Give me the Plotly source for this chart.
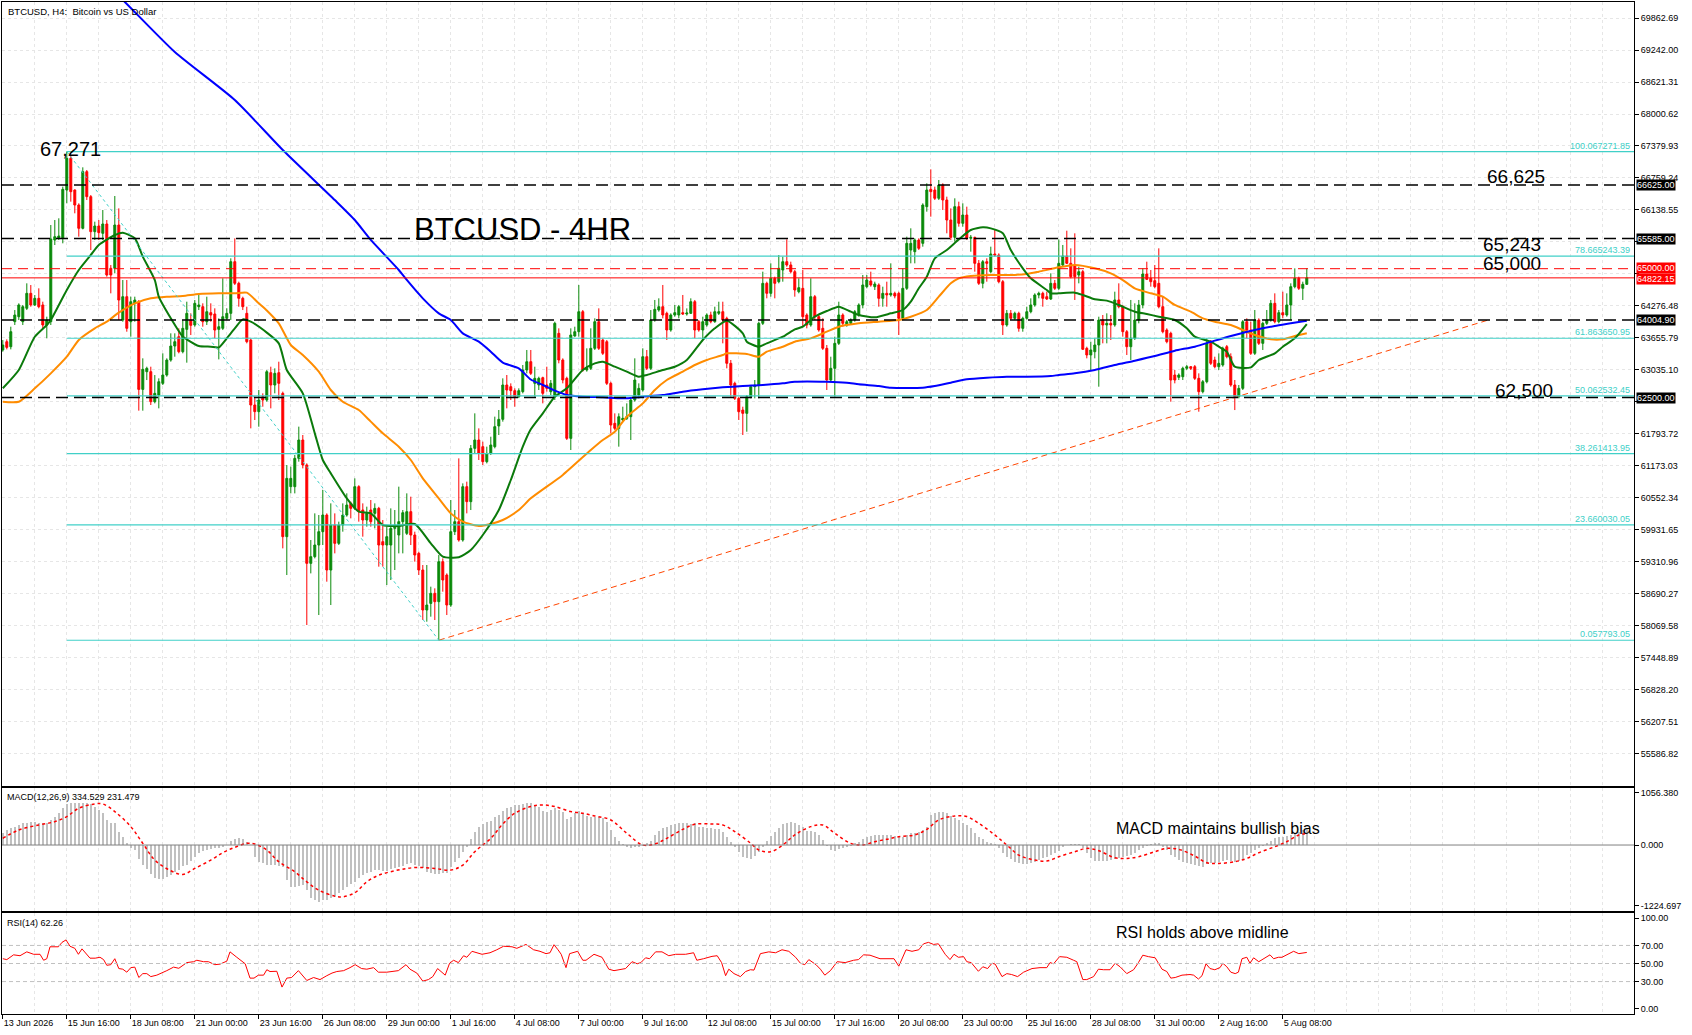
import plotly.graph_objects as go

# BTCUSD H4 candles, bar 0 = 13 Jun 2026 00:00 (one bar = 4 hours)
opens = [
    63423, 63584, 63487, 63972, 64069, 63972, 64231, 64522, 64296, 64425,
    64296, 63908, 63972, 65556, 65589, 65589, 66526, 67141, 66526, 66235,
    65783, 66882, 66397, 65718, 65828, 65686, 65867, 65007, 65007, 65847,
    64004, 64457, 63972, 64328, 64360, 62659, 63002, 63002, 62420, 62550,
    62776, 62937, 63228, 63500, 63681, 63390, 63823, 64004, 63908, 64263,
    64263, 63972, 64147, 64121, 63823, 63843, 64037, 64134, 65136, 64716,
    64425, 64134, 63616, 62356, 62227, 62517, 62453, 62983, 62744, 62983,
    62582, 59802, 60772, 60772, 61321, 61677, 61192, 59284, 59414, 59640,
    59899, 60222, 59155, 60028, 59672, 60028, 60222, 60448, 60351, 60772,
    60319, 60125, 60319, 60254, 60351, 59705, 59640, 59640, 59963, 59834,
    60093, 59866, 60287, 59834, 59478, 59155, 58379, 58508, 58703, 58541,
    59317, 59058, 58476, 59899, 60093, 59737, 60772, 60481, 61515, 61677,
    61548, 61257, 61418, 61548, 61949, 62078, 62744, 62711, 62634, 62517,
    62615, 63035, 63196, 62776, 62744, 62886, 62744, 62614, 62517, 63746,
    63229, 62873, 61709, 63694, 63778, 64166, 63035, 63067, 63455, 63972,
    63617, 63584, 62776, 62000, 61903, 62065, 62097, 62129, 62453, 62550,
    62647, 63293, 63067, 64005, 64199, 64263, 64134, 63811, 64102, 64102,
    64147, 64121, 64134, 64360, 63972, 63811, 63908, 64102, 63972, 64134,
    64166, 64037, 63164, 62776, 62485, 62258, 62194, 62517, 62711, 62744,
    63940, 64716, 64522, 64813, 64748, 64974, 65136, 65072, 64942, 64554,
    64619, 64102, 63908, 64457, 64069, 63843, 63455, 62841, 63067, 63552,
    64102, 63908, 63940, 64005, 64102, 64296, 64651, 64761, 64651, 64684,
    64425, 64522, 64490, 64522, 64522, 64037, 64619, 65362, 65330, 65556,
    65492, 66203, 66539, 66526, 66365, 66623, 66332, 65944, 65608, 66203,
    65880, 66041, 65589, 65608, 65104, 64716, 65136, 64942, 65285, 65265,
    64748, 63908, 64134, 64037, 64134, 63843, 64037, 64166, 64296, 64490,
    64522, 64457, 64412, 64716, 64619, 65072, 65246, 65104, 65072, 64877,
    64942, 63455, 63326, 63390, 63520, 64005, 63908, 63940, 63908, 64393,
    64263, 63778, 63487, 63649, 64005, 64296, 64897, 64813, 64768, 64716,
    64263, 63811, 63746, 62938, 62893, 62905, 63067, 63099, 63099, 62873,
    62614, 62808, 63552, 63229, 63099, 63132, 63487, 63293, 62744, 62517,
    62679, 63972, 63811, 63358, 64005, 63552, 63940, 64005, 64328, 63972,
    64147, 64102, 64296, 64651, 64813, 64619, 64697,
]
highs = [
    63616, 63629, 63875, 64198, 64328, 64296, 64716, 64683, 64489, 64619,
    64360, 64069, 65847, 65944, 65977, 66591, 67272, 67205, 66539, 66268,
    66966, 66914, 66429, 65912, 65944, 66138, 65944, 65071, 66410, 66170,
    64780, 64780, 64457, 64457, 64392, 63261, 63099, 63099, 62937, 62873,
    63358, 63261, 63746, 63746, 63843, 64004, 64360, 64134, 64392, 64489,
    64328, 64457, 64328, 64231, 64037, 64813, 64231, 65201, 65589, 64748,
    64457, 64263, 63649, 62517, 62647, 62582, 63034, 63099, 63067, 63196,
    62615, 61192, 61160, 61386, 61936, 61774, 61224, 59737, 60254, 60222,
    60707, 60254, 60448, 60254, 60093, 60448, 60642, 60481, 60933, 60800,
    60448, 60384, 60513, 60448, 60380, 60125, 59996, 60351, 60319, 60772,
    60319, 60642, 60578, 59899, 59511, 59252, 59252, 58832, 58800, 59446,
    59381, 59090, 60513, 60319, 61321, 60836, 60869, 61580, 62194, 61903,
    61645, 61548, 61741, 62130, 62259, 62873, 62938, 62776, 62679, 62679,
    63132, 63423, 63423, 63099, 62905, 62905, 63099, 62841, 63972, 63843,
    63261, 62905, 63843, 63875, 64684, 64199, 63455, 63843, 64037, 64231,
    63649, 63617, 62808, 62194, 62194, 62323, 62388, 62485, 63261, 62776,
    63455, 63423, 64199, 64393, 64425, 64684, 64166, 64134, 64296, 64296,
    64490, 64230, 64425, 64393, 64005, 64069, 64134, 64166, 64263, 64360,
    64360, 64069, 63229, 62808, 62517, 62323, 62550, 62744, 62841, 63972,
    64942, 64748, 65104, 64845, 65265, 65233, 65569, 65136, 64974, 64813,
    64974, 64134, 64813, 64490, 64100, 64037, 63520, 63293, 63681, 64360,
    64134, 64005, 64037, 64199, 64328, 64878, 64878, 64942, 64748, 64716,
    64651, 64748, 65104, 64554, 64554, 65007, 65621, 65783, 65589, 65589,
    66268, 66656, 66927, 66591, 66720, 66656, 66397, 66170, 66365, 66300,
    66268, 66203, 65653, 65621, 65168, 65168, 65201, 65427, 65750, 65298,
    64780, 64199, 64199, 64166, 64166, 64069, 64263, 64425, 64522, 64554,
    64554, 64554, 64910, 64781, 65569, 65460, 65737, 65395, 65686, 65039,
    64974, 63487, 63584, 63649, 64069, 64102, 64134, 64102, 64554, 64716,
    64296, 63811, 64393, 64328, 64393, 65007, 65136, 64974, 65072, 65395,
    64457, 63843, 63778, 63035, 62970, 63099, 63132, 63112, 63132, 62970,
    62841, 63649, 63617, 63293, 63358, 63487, 63520, 63358, 62841, 62744,
    64005, 64037, 63972, 64199, 64037, 63972, 64199, 64393, 64522, 64199,
    64554, 64522, 64716, 65007, 64845, 64748, 65007,
]
lows = [
    63390, 63435, 63435, 63908, 64004, 63908, 64198, 64263, 64276, 64231,
    63843, 63649, 63908, 65459, 65556, 65492, 66268, 66300, 66074, 65621,
    65763, 66332, 65362, 65556, 65556, 65556, 64845, 64522, 64910, 64004,
    63972, 63778, 63681, 63972, 62246, 62246, 62840, 62356, 62388, 62291,
    62744, 62905, 63196, 63293, 63358, 63358, 63177, 63713, 63875, 64198,
    63875, 63908, 63972, 63649, 63241, 63810, 64004, 64004, 64683, 64263,
    64198, 63552, 61903, 62065, 61935, 62323, 62420, 62291, 62582, 62453,
    59575, 59058, 60642, 60642, 61257, 61127, 58088, 59090, 59381, 58282,
    59640, 58929, 58476, 59478, 59640, 59899, 60190, 60157, 60319, 60093,
    59802, 59996, 59996, 59963, 59220, 59220, 58864, 58961, 59155, 59478,
    59478, 59834, 59640, 59317, 59058, 58185, 58153, 58250, 58185, 57793,
    58735, 58282, 58440, 59834, 59705, 59705, 60254, 60319, 61418, 61289,
    61192, 61224, 61386, 61515, 61774, 62033, 62291, 62453, 62323, 62490,
    62582, 62970, 62938, 62517, 62647, 62388, 62614, 62550, 62453, 63164,
    62776, 61677, 61483, 63681, 63681, 63003, 63003, 63035, 63423, 63423,
    63326, 62744, 61806, 61871, 61548, 62032, 62065, 61677, 62420, 62485,
    62614, 63035, 63035, 63972, 64166, 64037, 63617, 63778, 64069, 64037,
    64102, 64090, 64121, 63649, 63778, 63617, 63875, 63940, 63950, 64102,
    63552, 63067, 62517, 62453, 62065, 61774, 61838, 62485, 62485, 62485,
    63908, 64425, 64457, 64425, 64716, 64748, 65039, 64910, 64457, 64522,
    63875, 63843, 63875, 64005, 63778, 63423, 62647, 62808, 62517, 63520,
    63875, 63875, 63908, 63972, 64069, 64231, 64619, 64651, 64587, 64263,
    64263, 64263, 64457, 64425, 63714, 64005, 64587, 65104, 65104, 65362,
    65427, 66106, 66009, 66332, 66332, 66138, 65686, 65556, 65524, 65815,
    65815, 65556, 65330, 64942, 64684, 64619, 64748, 64910, 65233, 64716,
    63714, 63875, 64005, 64005, 63778, 63778, 64010, 64134, 64263, 64425,
    64263, 64393, 64393, 64587, 64587, 65039, 65090, 64813, 64393, 64716,
    63423, 63261, 63035, 63261, 62711, 63552, 63552, 63617, 63875, 64231,
    63681, 63326, 63229, 63617, 63940, 64231, 64780, 64651, 64619, 64231,
    63746, 63552, 62420, 62776, 62841, 62841, 63035, 63035, 62841, 62226,
    62582, 62776, 63132, 63067, 63035, 63099, 63261, 62711, 62258, 62485,
    62647, 63649, 63326, 63326, 63520, 63423, 63908, 63972, 63940, 63940,
    64037, 64069, 64005, 64619, 64587, 64393, 64684,
]
closes = [
    63519, 63474, 63778, 64101, 64296, 64263, 64522, 64296, 64425, 64263,
    63908, 64004, 65576, 65621, 65634, 66539, 67141, 66494, 66235, 65783,
    66882, 66397, 65718, 65828, 65699, 65867, 64877, 64877, 65847, 64392,
    64457, 63843, 64360, 64392, 62659, 63048, 63067, 62420, 62582, 62808,
    62937, 63228, 63500, 63584, 63390, 63843, 64134, 63901, 64328, 64296,
    63972, 64166, 64101, 63810, 63875, 64069, 64134, 65136, 64716, 64425,
    64263, 63584, 62356, 62227, 62453, 62453, 63002, 62744, 62970, 62776,
    59802, 60933, 60933, 61321, 61677, 61192, 59284, 59414, 59640, 59899,
    60222, 59155, 60028, 59672, 60028, 60222, 60416, 60351, 60772, 60287,
    60125, 60254, 60093, 60351, 59640, 59640, 59802, 59963, 60028, 60093,
    60267, 60287, 59834, 59446, 59155, 58379, 58476, 58703, 58541, 59317,
    58961, 58476, 59899, 60093, 59737, 60772, 60481, 61515, 61677, 61418,
    61257, 61418, 61580, 61936, 62078, 62744, 62647, 62634, 62517, 62634,
    63035, 63196, 62970, 62873, 62873, 62582, 62679, 62776, 63940, 63229,
    62841, 61709, 63714, 63778, 64166, 63035, 63067, 63455, 63972, 63455,
    63358, 62776, 61968, 61903, 62129, 62097, 62129, 62453, 62841, 62679,
    63293, 63067, 64005, 64212, 64263, 64102, 63811, 64102, 64147, 64263,
    64121, 64140, 64360, 63811, 63811, 63972, 64102, 63972, 64166, 64166,
    64005, 63164, 62744, 62485, 62226, 62194, 62517, 62711, 62744, 63940,
    64716, 64522, 64813, 64716, 65007, 65136, 65072, 64942, 64587, 64632,
    64069, 63908, 64457, 64069, 63811, 63455, 62841, 63067, 63552, 64102,
    63940, 63972, 64005, 64166, 64296, 64684, 64781, 64684, 64703, 64425,
    64522, 64490, 64522, 64470, 64037, 64619, 65492, 65492, 65556, 65395,
    66235, 66526, 66494, 66365, 66623, 66332, 65944, 65608, 66203, 65880,
    66041, 65589, 65608, 65104, 64716, 65136, 65104, 65285, 65265, 64748,
    63908, 64134, 64037, 64134, 63843, 64037, 64166, 64296, 64490, 64522,
    64425, 64412, 64716, 64619, 65104, 65246, 65104, 64845, 64845, 64942,
    63436, 63326, 63423, 63520, 64005, 63908, 63940, 63908, 64393, 64263,
    63778, 63487, 63649, 64005, 64296, 64897, 64793, 64748, 64651, 64263,
    63778, 63584, 62841, 62841, 62938, 63067, 63099, 63067, 62873, 62614,
    62808, 63552, 63164, 63099, 63164, 63455, 63293, 62744, 62517, 62679,
    63972, 63811, 63358, 64005, 63552, 63940, 64005, 64328, 63972, 64147,
    64102, 64296, 64651, 64813, 64619, 64697, 64822,
]
bars = list(range(len(closes)))

# moving averages (bar, price)
green_ma = [
    (0, 62680), (4, 63035), (8, 63680), (11, 63907), (12, 64004), (16, 64586), (19, 64974),
    (22, 65266), (24, 65459), (28, 65653), (30, 65699), (33, 65589), (35, 65233), (38, 64780),
    (39, 64457), (42, 64037), (45, 63681), (46, 63629), (49, 63500), (52, 63487), (54, 63474),
    (56, 63649), (58, 63843), (60, 64017), (62, 63972), (66, 63760), (69, 63552), (71, 63035),
    (75, 62582), (78, 61806), (80, 61289), (82, 61030), (86, 60545), (89, 60287), (92, 60254),
    (95, 60028), (99, 60009), (103, 60048), (107, 59672), (110, 59414), (114, 59401),
    (117, 59543), (120, 59834), (124, 60319), (127, 60901), (130, 61548), (132, 61884),
    (135, 62194), (138, 62517), (141, 62679), (145, 63035), (148, 63164), (150, 63196),
    (153, 63099), (156, 63003), (159, 62905), (161, 62938), (165, 63035), (168, 63099),
    (171, 63229), (175, 63617), (178, 63843), (181, 63992), (185, 63746), (186, 63584),
    (189, 63487), (191, 63552), (195, 63681), (198, 63823), (200, 63875), (203, 64069),
    (206, 64179), (209, 64263), (212, 64166), (214, 64102), (218, 64056), (222, 64134),
    (225, 64199), (227, 64360), (229, 64619), (231, 64845), (233, 65201), (236, 65363),
    (239, 65569), (242, 65750), (245, 65802), (247, 65782), (250, 65686), (252, 65362),
    (255, 65007), (257, 64813), (261, 64587), (262, 64522), (264, 64522), (268, 64535),
    (270, 64490), (273, 64406), (276, 64380), (279, 64296), (283, 64166), (286, 64121),
    (289, 64069), (293, 64005), (296, 63843), (298, 63681), (302, 63584), (304, 63487),
    (306, 63390), (308, 63099), (312, 63086), (314, 63229), (318, 63358), (320, 63487),
    (323, 63649), (326, 63927),
]
orange_ma = [
    (0, 62420), (4, 62420), (8, 62679), (12, 62970), (16, 63293), (19, 63617), (23, 63843),
    (26, 63972), (29, 64147), (33, 64328), (37, 64425), (41, 64457), (45, 64470), (49, 64509),
    (54, 64522), (58, 64522), (61, 64535), (64, 64328), (66, 64190), (69, 63940), (72, 63520),
    (75, 63326), (79, 63002), (82, 62647), (85, 62420), (89, 62259), (92, 62033), (95, 61806),
    (99, 61548), (102, 61289), (105, 60933), (109, 60545), (112, 60254), (115, 60093),
    (119, 60009), (122, 60048), (125, 60125), (129, 60319), (132, 60545), (140, 61000),
    (147, 61483), (150, 61677), (153, 61838), (156, 62129), (160, 62388), (163, 62647),
    (166, 62841), (170, 63003), (173, 63132), (176, 63229), (180, 63326), (181, 63358),
    (186, 63345), (189, 63293), (191, 63390), (195, 63487), (198, 63584), (202, 63649),
    (206, 63778), (209, 63875), (214, 63940), (219, 63972), (224, 64005), (227, 64069),
    (231, 64199), (234, 64457), (237, 64716), (239, 64813), (242, 64858), (247, 64878),
    (252, 64878), (256, 64897), (259, 64942), (264, 65026), (268, 65072), (273, 65007),
    (277, 64910), (280, 64780), (283, 64619), (287, 64522), (290, 64457), (293, 64296),
    (297, 64166), (300, 64037), (303, 63972), (307, 63908), (310, 63811), (313, 63714),
    (317, 63630), (320, 63630), (323, 63694), (326, 63746),
]
blue_ma = [
    (20, 70950), (30, 70212), (43, 69203), (58, 68272), (70, 67302), (83, 66332), (88, 65944),
    (92, 65557), (99, 64975), (101, 64781), (105, 64425), (109, 64134), (112, 64005),
    (115, 63746), (119, 63584), (122, 63390), (125, 63177), (129, 63067), (132, 62850),
    (135, 62744), (138, 62634), (141, 62550), (145, 62517), (150, 62505), (155, 62485),
    (160, 62517), (165, 62550), (170, 62614), (175, 62660), (180, 62698), (185, 62724),
    (190, 62744), (195, 62776), (198, 62808), (206, 62808), (211, 62789), (214, 62757),
    (219, 62724), (222, 62692), (230, 62692), (233, 62724), (237, 62789), (241, 62854),
    (246, 62886), (251, 62905), (256, 62905), (262, 62918), (264, 62938), (268, 62970),
    (273, 63035), (278, 63132), (283, 63216), (288, 63306), (293, 63410), (298, 63487),
    (303, 63604), (308, 63714), (313, 63811), (318, 63888), (322, 63940), (326, 63992),
]

# MACD(12,26,9): main per bar, signal read at points
macd_main = [
    236, 304, 338, 371, 405, 439, 452, 472, 472, 452,
    439, 439, 506, 574, 655, 743, 830, 857, 857, 857,
    844, 857, 830, 776, 709, 641, 506, 439, 439, 270,
    169, 34, -68, -101, -290, -405, -493, -587, -675, -689,
    -689, -641, -608, -540, -506, -425, -405, -317, -236, -169,
    -115, -101, -88, -68, -68, -34, 0, 88, 122, 135,
    115, 68, 0, -250, -338, -371, -405, -405, -405, -425,
    -439, -709, -844, -844, -830, -810, -911, -1080, -1114, -1160,
    -1114, -1114, -1080, -1046, -979, -911, -844, -790, -743, -675,
    -608, -574, -540, -506, -506, -520, -520, -493, -473, -452,
    -425, -385, -371, -405, -425, -473, -540, -574, -587, -587,
    -574, -560, -439, -338, -270, -135, -34, 115, 270, 358,
    425, 472, 493, 574, 608, 695, 743, 776, 803, 810,
    830, 844, 857, 790, 763, 695, 675, 709, 743, 709,
    675, 520, 560, 641, 695, 628, 587, 560, 560, 560,
    540, 472, 304, 169, 81, 20, -47, -54, -34, -34,
    -20, 34, 81, 203, 290, 338, 371, 405, 425, 439,
    452, 452, 425, 439, 371, 371, 338, 338, 317, 317,
    270, 169, 68, -34, -135, -236, -270, -290, -223, -135,
    -34, 81, 182, 270, 338, 419, 452, 472, 439, 405,
    371, 290, 290, 270, 203, 101, -20, -101, -115, -88,
    -68, -34, -20, 34, 68, 115, 155, 182, 203, 203,
    203, 203, 203, 182, 182, 169, 203, 236, 250, 270,
    304, 371, 608, 641, 662, 662, 641, 587, 540, 506,
    452, 405, 338, 250, 155, 115, 68, 34, 20, -68,
    -155, -236, -290, -338, -371, -392, -385, -358, -338, -304,
    -270, -236, -203, -169, -115, -34, 0, 20, 20, 20,
    -68, -155, -270, -317, -324, -324, -317, -304, -290, -270,
    -236, -223, -203, -155, -101, -68, -20, 20, 47, 34,
    -34, -101, -203, -250, -304, -338, -371, -385, -405, -425,
    -439, -385, -371, -358, -338, -324, -304, -317, -338, -317,
    -290, -203, -155, -101, -68, -20, 34, 88, 135, 169,
    169, 182, 203, 236, 270, 304, 335,
]
macd_signal = [
    (0, 135), (4, 304), (9, 405), (13, 472), (16, 574), (19, 743), (23, 830), (25, 830),
    (28, 675), (32, 371), (35, 34), (38, -304), (42, -520), (45, -594), (48, -473), (52, -304),
    (55, -155), (58, -47), (61, 34), (63, 20), (66, -101), (69, -338), (73, -540), (76, -743),
    (79, -911), (83, -1033), (85, -1046), (88, -965), (91, -743), (94, -608), (98, -520),
    (101, -473), (104, -452), (108, -473), (112, -506), (115, -405), (118, -135), (122, 135),
    (125, 425), (128, 641), (132, 776), (135, 810), (138, 776), (142, 675), (145, 641),
    (148, 587), (152, 506), (156, 236), (160, 0), (163, 20), (166, 135), (170, 317), (173, 419),
    (177, 425), (180, 405), (183, 270), (187, 34), (189, -101), (192, -135), (195, 0),
    (198, 203), (202, 371), (205, 405), (208, 236), (212, 34), (215, 0), (218, 68), (221, 115),
    (224, 169), (228, 203), (231, 317), (234, 506), (238, 587), (241, 574), (244, 439),
    (248, 203), (251, 0), (254, -203), (258, -304), (261, -324), (264, -236), (268, -135),
    (271, -68), (274, -115), (278, -256), (281, -270), (284, -236), (288, -135), (291, -68),
    (294, -88), (298, -223), (301, -358), (304, -371), (308, -338), (311, -270), (314, -155),
    (318, -34), (321, 68), (324, 203), (326, 231),
]

# RSI(14) read at points (bar, value)
rsi_line = [
    (0, 55.3), (1, 54.3), (2.7, 59.6), (4.3, 58.6), (6, 62.9), (7.7, 60.2), (9.3, 60.2),
    (10.2, 53.6), (11, 55.3), (11.8, 68.5), (13.9, 68.5), (14.8, 73.4), (15.8, 76.1),
    (16.8, 69.1), (18, 66.8), (18.9, 60.2), (19.8, 66.2), (21.8, 55.9), (23.1, 55.9),
    (24.3, 56.9), (25.2, 54.3), (26, 48), (27, 48.7), (28, 55.3), (29, 44.4), (30, 43.7),
    (31, 40.4), (32, 45.4), (33, 46), (34, 34.5), (35, 38.8), (36, 38.8), (37, 35.5),
    (38.5, 37.1), (41, 42.1), (42.7, 46), (44, 44.7), (46, 51), (47.7, 52), (48.5, 53.6),
    (50.2, 52), (51.4, 52), (53, 48.7), (54.3, 49.3), (56, 52.6), (56.8, 62.9), (58.5, 56.9),
    (60.6, 49.7), (61.8, 33.8), (62.8, 33.8), (63.9, 37.1), (65.2, 37.1), (66, 43.1),
    (66.8, 41.1), (68.5, 41.4), (69.8, 23.9), (71, 33.8), (72.2, 34.5), (73.9, 42.1),
    (76, 31.2), (77.7, 34.5), (79.3, 32.2), (81, 36.5), (82.3, 39.4), (83.5, 41.1),
    (85.2, 42.1), (86.8, 45.4), (88.1, 48.7), (89.7, 44.4), (91, 43.7), (92.7, 45.4),
    (93.9, 40.4), (96, 40.4), (97.3, 41.1), (98.9, 42.1), (100.8, 48.7), (101.8, 43.7),
    (103.5, 39.4), (105, 30.5), (106.4, 32.2), (107.5, 35.5), (108.7, 44.4), (109.8, 40.4),
    (110.6, 37.1), (111.7, 50.3), (112.7, 53.6), (113.9, 51), (115.2, 58.6), (116, 56.9),
    (117.3, 63.5), (119.8, 60.2), (121.8, 61.9), (123.5, 65.2), (125.2, 69.1), (127.3, 68.5),
    (128.5, 66.8), (130.8, 71.1), (132.7, 65.2), (134.3, 63.5), (135.8, 60.9), (136.8, 61.9),
    (137.8, 70.8), (138.8, 65.2), (139.6, 60.2), (140.8, 45.4), (141.7, 60.9), (143.7, 63.5),
    (145, 53.6), (145.8, 53.6), (147.8, 60.2), (149.8, 56.9), (151.5, 43.7), (152.8, 42.1),
    (155.7, 44.4), (157.3, 52), (158.6, 49.7), (159.5, 51), (160.7, 56.3), (161.7, 55.3),
    (163.2, 62.9), (164.8, 62.9), (166.5, 58.6), (168.2, 60.2), (170.7, 60.2), (172.7, 61.9),
    (173.5, 53.6), (175.2, 55.3), (177.3, 57.9), (178.6, 58.6), (179.7, 51), (180.7, 36.5),
    (181.5, 43.7), (182.8, 38.8), (184.4, 35.5), (185.7, 41.1), (186.9, 43.1), (187.8, 42.7),
    (189.4, 60.9), (191.5, 62.9), (193.2, 61.9), (194.8, 65.2), (196.5, 63.5), (198.2, 56.9),
    (199.4, 50.3), (200.5, 48.7), (201.5, 54.3), (203.3, 48.7), (204.4, 43.7), (205.5, 37.1),
    (206.9, 42.1), (208.6, 52), (210.6, 51), (212.7, 53.6), (213.9, 54.3), (215.2, 59.6),
    (216.8, 59.2), (219.3, 55.3), (222.8, 55.3), (224, 47), (225.8, 65.2), (227.3, 63.5),
    (229, 65.2), (230.2, 71.8), (231.4, 73.4), (232.7, 71.1), (233.9, 71.8), (235.6, 60.2),
    (236.8, 54.3), (237.8, 60.2), (238.9, 56.9), (240.2, 57.6), (241, 52), (242.1, 51),
    (243.9, 41.4), (245, 46.4), (246.2, 44.4), (247.3, 50.3), (248.1, 49.3), (249.8, 35.5),
    (251, 38.8), (252.2, 37.8), (253.7, 35.5), (255.2, 40.4), (257.3, 44.4), (259.3, 45.4),
    (261, 45.4), (261.8, 51), (262.7, 49.7), (264.2, 57.6), (266, 56.9), (267.7, 53.6),
    (268.5, 52), (270, 32.2), (271, 32.2), (272.7, 35.5), (273.9, 43.7), (275.2, 43.1),
    (276.8, 43.1), (278.1, 50.3), (279.3, 46.4), (281, 38.8), (282.7, 43.1), (283.9, 51),
    (285, 59.2), (286.4, 57.6), (288.1, 56.3), (289.8, 43.7), (291, 41.1), (292, 33.8),
    (293.1, 34.5), (294.8, 37.1), (296.8, 37.8), (297.7, 37.1), (298.9, 32.8), (299.8, 36.5),
    (300.8, 49.7), (301.8, 44.4), (303, 43.1), (304.3, 45.4), (305, 50.3), (306, 46.4),
    (307, 40.4), (308.1, 38.8), (308.9, 40.4), (309.8, 55.3), (311, 56.9), (311.8, 50.3),
    (312.7, 56.3), (314, 52), (315.2, 55.3), (316.8, 59.6), (317.7, 55.3), (318.9, 56.9),
    (319.8, 56.9), (321, 59.6), (322.7, 63.5), (324, 60.9), (325.6, 61.9), (326, 62.26),
]

price_ticks = [55586.82, 56207.51, 56828.20, 57448.89, 58069.58, 58690.27, 59310.96,
               59931.65, 60552.34, 61173.03, 61793.72, 62414.41, 63035.10, 63655.79,
               64276.48, 64897.17, 65517.86, 66138.55, 66759.24, 67379.93, 68000.62,
               68621.31, 69242.00, 69862.69]
# these labels sit under the price boxes on the right edge
hidden_ticks = [62414.41, 64897.17, 65517.86]
macd_ticks = [-1224.697, 0.0, 1056.380]
rsi_ticks = [0, 30, 50, 70, 100]

date_ticks = [0, 16, 32, 48, 64, 80, 96, 112, 128, 144, 160, 176, 192, 208, 224, 240,
              256, 272, 288, 304, 320]
date_labels = ["13 Jun 2026", "15 Jun 16:00", "18 Jun 08:00", "21 Jun 00:00", "23 Jun 16:00",
               "26 Jun 08:00", "29 Jun 00:00", "1 Jul 16:00", "4 Jul 08:00", "7 Jul 00:00",
               "9 Jul 16:00", "12 Jul 08:00", "15 Jul 00:00", "17 Jul 16:00", "20 Jul 08:00",
               "23 Jul 00:00", "25 Jul 16:00", "28 Jul 08:00", "31 Jul 00:00", "2 Aug 16:00",
               "5 Aug 08:00"]

fib_levels = [67271.85, 65243.39, 63650.95, 62532.45, 61413.95, 60030.05, 57793.05]
fib_names = ["100.0", "78.6", "61.8", "50.0", "38.2", "23.6", "0.0"]
fib_high = (16, 67271.85)
fib_low = (109, 57793.05)
trend_start = (109, 57793.05)
trend_end = (371.4, 64004.90)

black_levels = [66625.00, 65585.00, 64004.90, 62500.00]
round_level = 65000.00
bid = 64822.15

FONT = "Liberation Sans, Arial, sans-serif"
TURQ = "#40D0C8"
GRID = "#E6E6E6"
GREEN = "#0A8A0A"
RED = "#FF0000"

fig = go.Figure()

fig.add_trace(go.Candlestick(
    x=bars, open=opens, high=highs, low=lows, close=closes,
    increasing=dict(line=dict(color=GREEN, width=1), fillcolor=GREEN),
    decreasing=dict(line=dict(color=RED, width=1), fillcolor=RED),
    whiskerwidth=0, xaxis="x", yaxis="y", hoverinfo="skip"))

for ma, col in [(orange_ma, "#FF8C00"), (green_ma, "#0B7A0B"), (blue_ma, "#0000FF")]:
    fig.add_trace(go.Scatter(x=[p[0] for p in ma], y=[p[1] for p in ma], mode="lines",
                             line=dict(color=col, width=2, shape="spline", smoothing=0.6),
                             xaxis="x", yaxis="y", hoverinfo="skip"))

# fibo diagonal + trend line
fig.add_trace(go.Scatter(x=[fib_high[0], fib_low[0]], y=[fib_high[1], fib_low[1]], mode="lines",
                         line=dict(color=TURQ, width=1, dash="dot"), xaxis="x", yaxis="y"))
fig.add_trace(go.Scatter(x=[trend_start[0], trend_end[0]], y=[trend_start[1], trend_end[1]],
                         mode="lines", line=dict(color="#FF4500", width=1, dash="6px,4px"),
                         xaxis="x", yaxis="y"))

# MACD panel
fig.add_trace(go.Bar(x=bars, y=macd_main, width=0.3, marker=dict(color="#C0C0C0", line=dict(width=0)),
                     xaxis="x2", yaxis="y2", hoverinfo="skip"))
fig.add_trace(go.Scatter(x=[p[0] for p in macd_signal], y=[p[1] for p in macd_signal], mode="lines",
                         line=dict(color=RED, width=1.5, dash="dot", shape="spline"),
                         xaxis="x2", yaxis="y2"))

# RSI panel
fig.add_trace(go.Scatter(x=[p[0] for p in rsi_line], y=[p[1] for p in rsi_line], mode="lines",
                         line=dict(color=RED, width=1), xaxis="x3", yaxis="y3"))

shapes = []
for lv in fib_levels:
    shapes.append(dict(type="line", xref="x", yref="y", x0=fib_high[0], x1=407.8, y0=lv, y1=lv,
                       line=dict(color=TURQ, width=1.2)))
for lv in black_levels:
    shapes.append(dict(type="line", xref="x domain", yref="y", x0=0, x1=1, y0=lv, y1=lv,
                       line=dict(color="black", width=1.5, dash="12px,6px")))
shapes.append(dict(type="line", xref="x domain", yref="y", x0=0, x1=1, y0=round_level, y1=round_level,
                   line=dict(color=RED, width=1, dash="10px,6px")))
shapes.append(dict(type="line", xref="x domain", yref="y", x0=0, x1=1, y0=bid, y1=bid,
                   line=dict(color=RED, width=1)))
shapes.append(dict(type="line", xref="x2 domain", yref="y2", x0=0, x1=1, y0=0, y1=0,
                   line=dict(color="#808080", width=1)))
for lv in [70, 50, 30]:
    shapes.append(dict(type="line", xref="x3 domain", yref="y3", x0=0, x1=1, y0=lv, y1=lv,
                       line=dict(color="#C0C0C0", width=1, dash="4px,3px")))

ann = []
for lv, nm in zip(fib_levels, fib_names):
    ann.append(dict(xref="paper", yref="y", x=1, y=lv, xanchor="right", yanchor="bottom",
                    xshift=-2, yshift=-1, text=nm + "%.2f" % lv, showarrow=False,
                    font=dict(family=FONT, size=9, color=TURQ)))
for lv in black_levels:
    ann.append(dict(xref="paper", yref="y", x=1, y=lv, xanchor="left", yanchor="middle", xshift=2,
                    text="%.2f" % lv, showarrow=False, bgcolor="black", borderpad=0,
                    font=dict(family=FONT, size=9, color="white")))
for lv, sh in [(round_level, 1), (bid, -1)]:
    ann.append(dict(xref="paper", yref="y", x=1, y=lv, xanchor="left", yanchor="middle", xshift=2,
                    yshift=sh, text="%.2f" % lv, showarrow=False, bgcolor=RED, borderpad=0,
                    font=dict(family=FONT, size=9, color="white")))

big = [("67,271", 17, 67325, 20), ("BTCUSD - 4HR", 129.8, 65760, 31), ("66,625", 378.2, 66784, 19),
       ("65,243", 377.2, 65479, 19), ("65,000", 377.2, 65110, 19), ("62,500", 380.2, 62641, 19)]
for txt, bx, py, sz in big:
    ann.append(dict(xref="x", yref="y", x=bx, y=py, text=txt, showarrow=False, xanchor="center",
                    yanchor="middle", font=dict(family=FONT, size=sz, color="black")))

ann.append(dict(xref="x2", yref="y2", x=277.8, y=343, text="MACD maintains bullish bias", showarrow=False,
                xanchor="left", yanchor="middle", font=dict(family=FONT, size=16, color="black")))
ann.append(dict(xref="x3", yref="y3", x=277.8, y=84.8, text="RSI holds above midline", showarrow=False,
                xanchor="left", yanchor="middle", font=dict(family=FONT, size=16, color="black")))
ann.append(dict(xref="paper", yref="paper", x=0, y=1, xanchor="left", yanchor="top", xshift=4, yshift=-2,
                text="BTCUSD, H4:  Bitcoin vs US Dollar", showarrow=False,
                font=dict(family=FONT, size=9.5, color="black")))
ann.append(dict(xref="paper", yref="y2", x=0, y=975, xanchor="left", yanchor="middle", xshift=3,
                text="MACD(12,26,9) 334.529 231.479", showarrow=False,
                font=dict(family=FONT, size=9, color="black")))
ann.append(dict(xref="paper", yref="y3", x=0, y=95, xanchor="left", yanchor="middle", xshift=3,
                text="RSI(14) 62.26", showarrow=False, font=dict(family=FONT, size=9, color="black")))

xbase = dict(range=[-0.2, 407.8], tickmode="array", tickvals=date_ticks, showgrid=True,
             gridcolor=GRID, griddash="3px,3px", gridwidth=1, zeroline=False,
             showline=True, mirror=True, linecolor="black", linewidth=1,
             minor=dict(tickmode="linear", tick0=0, dtick=8, showgrid=True, gridcolor=GRID,
                        griddash="3px,3px", ticks=""))
yfont = dict(family=FONT, size=9, color="black")

fig.update_layout(
    width=1692, height=1035, margin=dict(l=2, r=58, t=2, b=21),
    paper_bgcolor="white", plot_bgcolor="white", showlegend=False, bargap=0,
    xaxis=dict(xbase, anchor="y", showticklabels=False, ticks="", rangeslider=dict(visible=False)),
    xaxis2=dict(xbase, anchor="y2", matches="x", showticklabels=False, ticks=""),
    xaxis3=dict(xbase, anchor="y3", matches="x", ticks="outside", ticklen=4, tickcolor="black",
                ticktext=date_labels, ticklabelposition="outside right", tickfont=yfont),
    yaxis=dict(domain=[0.2253, 1.0], range=[54965.8, 70173.0], side="right", anchor="x",
               tickmode="array", tickvals=price_ticks,
               ticktext=["" if v in hidden_ticks else "%.2f" % v for v in price_ticks],
               ticks="outside", ticklen=4, tickcolor="black", tickfont=yfont,
               showgrid=True, gridcolor=GRID, griddash="3px,3px", zeroline=False,
               showline=True, mirror=True, linecolor="black", linewidth=1),
    yaxis2=dict(domain=[0.1018, 0.2233], range=[-1332, 1151], side="right", anchor="x2",
                tickmode="array", tickvals=macd_ticks, ticktext=["-1224.697", "0.000", "1056.380"],
                ticks="outside", ticklen=4, tickcolor="black", tickfont=yfont, showgrid=False,
                zeroline=False, showline=True, mirror=True, linecolor="black", linewidth=1),
    yaxis3=dict(domain=[0.0, 0.0998], range=[-5.9, 105.9], side="right", anchor="x3",
                tickmode="array", tickvals=rsi_ticks, ticktext=["%.2f" % v for v in rsi_ticks],
                ticks="outside", ticklen=4, tickcolor="black", tickfont=yfont, showgrid=False,
                zeroline=False, showline=True, mirror=True, linecolor="black", linewidth=1),
    shapes=shapes, annotations=ann,
)

# page body margin would push the fixed-size chart 8px off the window
fig.write_html("out.html", config={"displayModeBar": False},
               post_script="document.body.style.margin='0px';")
